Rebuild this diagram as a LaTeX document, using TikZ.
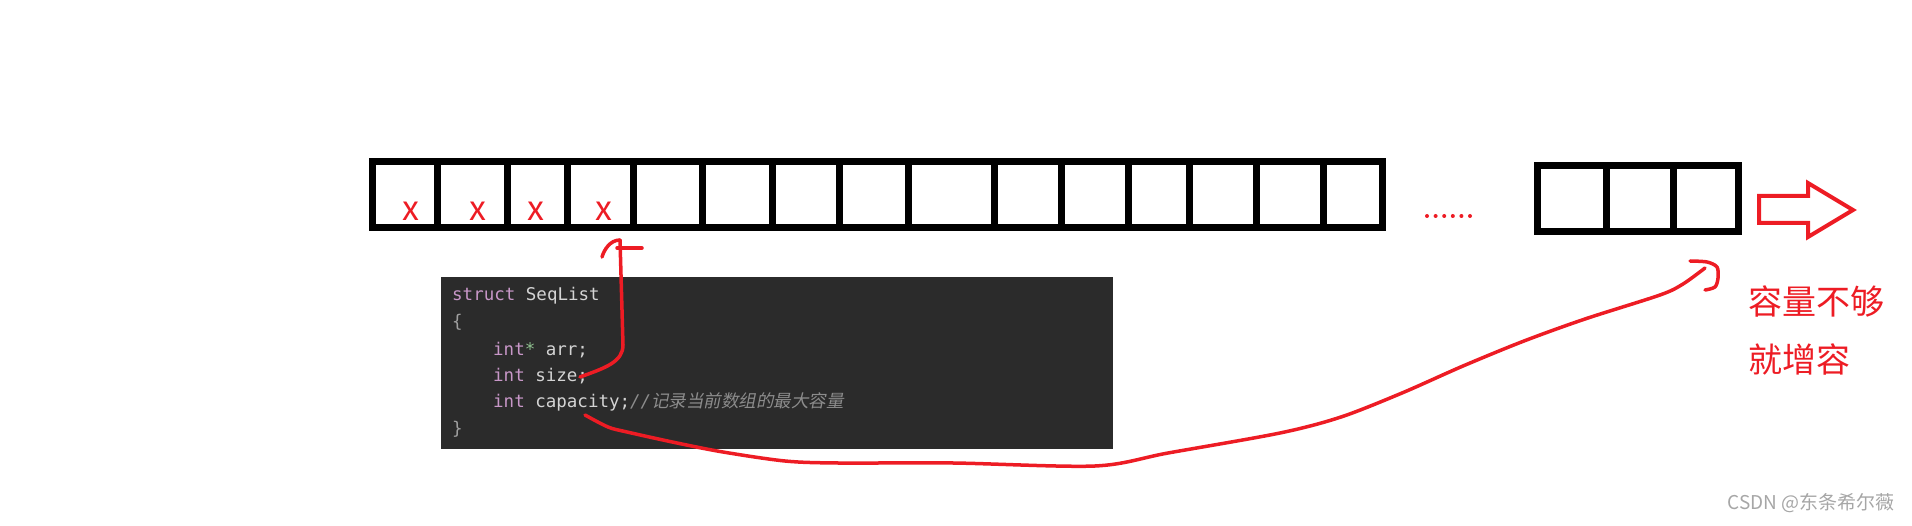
\documentclass[tikz,border=0pt]{standalone}
\usepackage{fontspec}
\setmonofont{DejaVu Sans Mono}
\newfontfamily\cjk{Noto Sans CJK SC}
\newfontfamily\cjkit[FakeSlant=0.2]{Noto Sans CJK SC}
\definecolor{penred}{HTML}{ED1C24}
\definecolor{codebg}{HTML}{2B2B2B}
\definecolor{codefg}{HTML}{D4D4D4}
\definecolor{codekw}{HTML}{C897C8}
\definecolor{codestar}{HTML}{8FC08F}
\definecolor{codecmt}{HTML}{8C8C8C}
\definecolor{codebrace}{HTML}{A0A0A0}
\newcommand{\codekw}[1]{\textcolor{codekw}{#1}}
\tikzset{
  cell/.style={draw=black, line width=7pt, inner sep=0pt},
  redpen/.style={draw=penred, line width=3.5pt, line cap=round, line join=round},
  redx/.style={text=penred, inner sep=0pt, font=\cjk\fontsize{34}{34}\selectfont},
  codeline/.style={anchor=base west, inner sep=0pt, text=codefg, font=\ttfamily\fontsize{17.5}{20}\selectfont},
}
\begin{document}
\begin{tikzpicture}[x=1pt,y=-1pt]
		\useasboundingbox (0,0) rectangle (1912,526);
		% Array cells
		\foreach \a/\b [count=\i] in {372/437,437/507,507/567,567/633,633/702,702/772,772/839,839/908,908/994,994/1061,1061/1128,1128/1189,1189/1256,1256/1323,1323/1382}
			\node[cell, minimum width=\b-\a, minimum height=66] (cell\i) at ({(\a+\b)/2},195) {};
		% Used cells
		\node[redx] (x1) at (411,211) {x};
		\node[redx] (x2) at (478,211) {x};
		\node[redx] (x3) at (536,211) {x};
		\node[redx] (x4) at (604,211) {x};
		% Dots
		\foreach \k in {0,...,5}
			\fill[penred] (1427+\k*8.6,216) circle (2);
		% Last cells
		\foreach \a/\b [count=\i] in {1537/1606,1606/1673,1673/1738}
			\node[cell, minimum width=\b-\a, minimum height=66] (last\i) at ({(\a+\b)/2},199) {};
		% Hollow arrow
		\draw[redpen, line width=4pt, line join=miter] (1759,196) -- (1808,196) -- (1808,183) -- (1853,210) -- (1808,237) -- (1808,223) -- (1759,223) -- cycle;
		\node[text=penred, anchor=west, inner sep=0pt, font=\cjk\fontsize{34}{34}\selectfont] (full) at (1748,301) {容量不够};
		\node[text=penred, anchor=west, inner sep=0pt, font=\cjk\fontsize{34}{34}\selectfont] (grow) at (1748,359) {就增容};
		% Struct code
		\node[fill=codebg, minimum width=672, minimum height=172, anchor=north west, inner sep=0pt] (code) at (441,277) {};
		\node[codeline] (l1) at (452,301) {\codekw{struct} SeqList};
		\node[codeline, text=codebrace] (l2) at (452,328) {\{};
		\node[codeline] (l3) at (493,356) {\codekw{int}\textcolor{codestar}{*} arr;};
		\node[codeline] (l4) at (493,382) {\codekw{int} size;};
		\node[codeline] (l5) at (493,408) {\codekw{int} capacity;\textcolor{codecmt}{\itshape//\cjkit 记录当前数组的最大容量}};
		\node[codeline, text=codebrace] (l6) at (452,435) {\}};
		% size -> first free cell
		\coordinate (sizeend) at (580,377);
		\coordinate (sizetip) at (620,240);
		\draw[redpen] (sizeend) .. controls (605,368) and (623,362) .. (623,345) -- (621,275) -- (sizetip);
		\draw[redpen] (sizetip) .. controls (610,240) and (604,250) .. (602,257);
		\draw[redpen] (617,248) -- (642,248);
		% capacity -> last cells
		\coordinate (capend) at (585,415);
		\coordinate (captip) at (1705,268);
		\draw[redpen] plot[smooth, tension=0.5] coordinates {(capend) (608,427) (627,432) (677,443) (723,452) (785,461) (838,463) (953,463) (1095,466) (1168,453) (1280,433) (1341,417) (1402,393) (1463,366) (1524,341) (1585,319) (1660,295) (1683,284) (captip)};
		\draw[redpen] plot[smooth] coordinates {(1690,261) (1707,262) (1717,267) (1718,278) (1715,287) (1705,290)};
		% Watermark
		\node[text=black!35, anchor=east, inner sep=0pt, font=\cjk\fontsize{19}{19}\selectfont] (mark) at (1895,503) {CSDN @东条希尔薇};
	\end{tikzpicture}
\end{document}
